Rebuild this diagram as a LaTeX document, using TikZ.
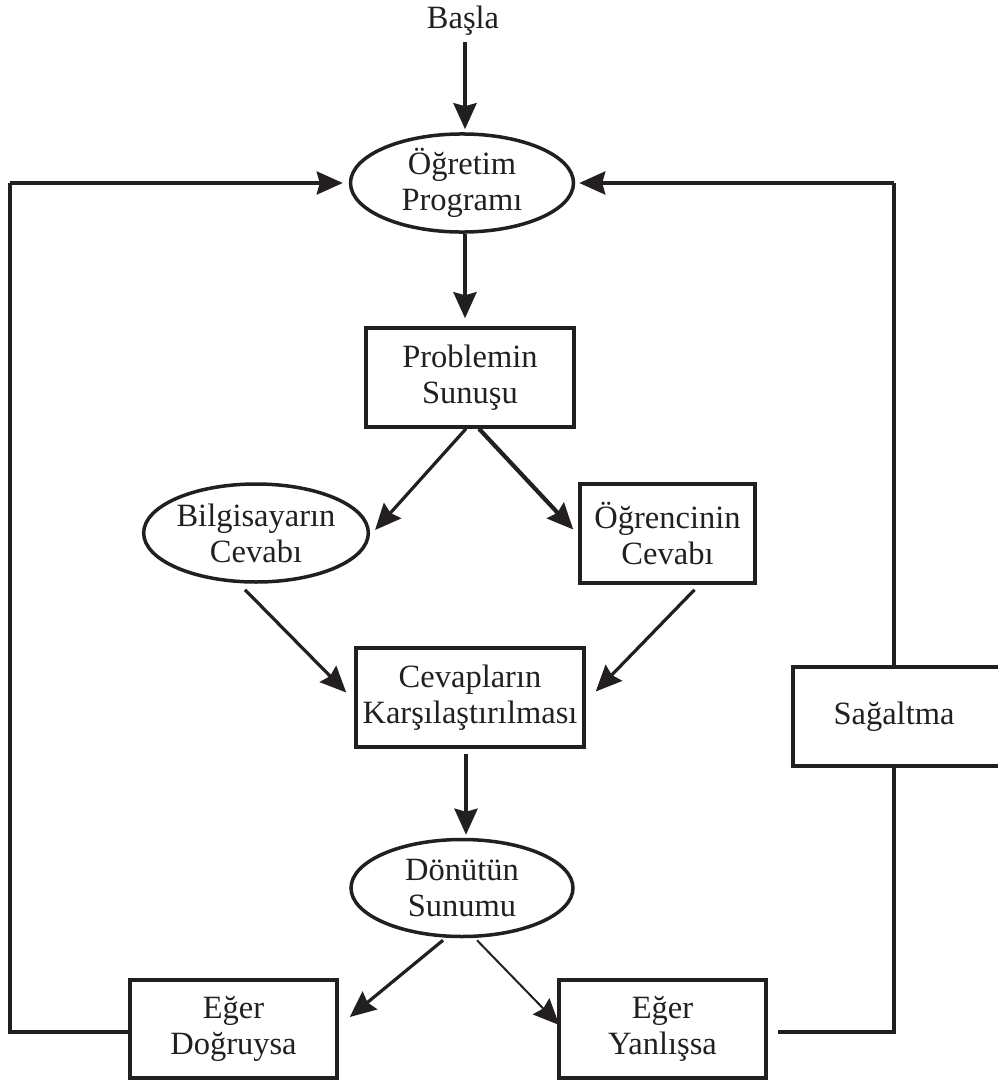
\documentclass[tikz,border=0pt]{standalone}
\usepackage{fontspec}
\setmainfont{Liberation Serif}
\usetikzlibrary{arrows.meta,shapes.geometric,calc}
\definecolor{ink}{RGB}{35,31,32}
\begin{document}
\begin{tikzpicture}[x=1pt,y=-1pt,
  every node/.style={font=\fontsize{32.5}{36}\selectfont, align=center, inner sep=0pt, text=ink},
  oval/.style={draw=ink, ellipse, line width=3.5pt, minimum width=223pt, minimum height=97pt},
  box/.style={draw=ink, rectangle, line width=3.5pt},
  head/.style={-{Stealth[length=26pt,width=23pt,inset=3pt]}},
  flow/.style={head, draw=ink, line width=4pt},
  slant/.style={head, draw=ink, line width=3.2pt},
  thin/.style={head, draw=ink, line width=2pt},
  back/.style={draw=ink, line width=3.5pt},
]
\useasboundingbox (0,0) rectangle (997,1084);

% nodes
\node (start) at (463,21) {Başla};
\node[oval] (prog) at (462,183) {Öğretim\\Programı};
\node[box, minimum width=208pt, minimum height=99pt] (prob) at (470,377.5) {Problemin\\Sunuşu};
\node[oval, minimum width=202pt, minimum height=98pt] (bilg) at (256,533) {Bilgisayarın\\Cevabı};
\node[box, minimum width=175pt, minimum height=99pt] (ogr) at (667.5,533.5) {Öğrencinin\\Cevabı};
\node[box, minimum width=228pt, minimum height=99pt] (cev) at (470,697.5) {Cevapların\\Karşılaştırılması};
\node[box, minimum width=212pt, minimum height=99pt] (sag) at (899,716.5) {Sağaltma\hspace*{10pt}};
\node[oval, minimum width=222pt] (don) at (462,888) {Dönütün\\Sunumu};
\node[box, minimum width=207pt, minimum height=98pt] (dog) at (233.5,1029) {Eğer\\Doğruysa};
\node[box, minimum width=207pt, minimum height=98pt] (yan) at (662.5,1029) {Eğer\\Yanlışsa};

% corners of the feedback loops
\coordinate (lb) at (10,1032);
\coordinate (lt) at (10,183);
\coordinate (rb) at (894,1032);
\coordinate (rt) at (894,183);

% main flow
\draw[flow] ($(start.south)+(2,6)$) -- ($(prog.north)+(3,-3)$);
\draw[flow] ($(prog.south)+(3,0)$) -- ($(prob.north)+(-5,-8)$);
\draw[slant] ($(prob.south)+(-4,0)$) -- ($(bilg.east)+(5,-3)$);
\draw[slant, line width=4.2pt] ($(prob.south)+(9,0)$) -- ($(ogr.west)+(-5,-4)$);
\draw[slant] ($(bilg.south)+(-11,6)$) -- ($(cev.west)+(-8,-5)$);
\draw[slant] ($(ogr.south)+(27,5)$) -- ($(cev.east)+(10,-6)$);
\draw[flow] ($(cev.south)+(-4,5)$) -- ($(don.north)+(4,-3)$);
\draw[slant] ($(don.south)+(-19,2)$) -- ($(dog.east)+(11,-12)$);
\draw[thin] ($(don.south)+(15,2)$) -- ($(yan.west)+(2,-4)$);

% feedback: correct answer
\draw[back] ($(dog.west)+(0,3)$) -- (lb) -- (lt);
\draw[back, head] (lt) -- ($(prog.west)+(-6,0)$);

% feedback: wrong answer through remediation
\draw[back] ($(yan.east)+(10,3)$) -- (rb) -- (rb |- sag.south);
\draw[back] (rb |- sag.north) -- (rt);
\draw[back, head] (rt) -- ($(prog.east)+(4,0)$);
\end{tikzpicture}
\end{document}
